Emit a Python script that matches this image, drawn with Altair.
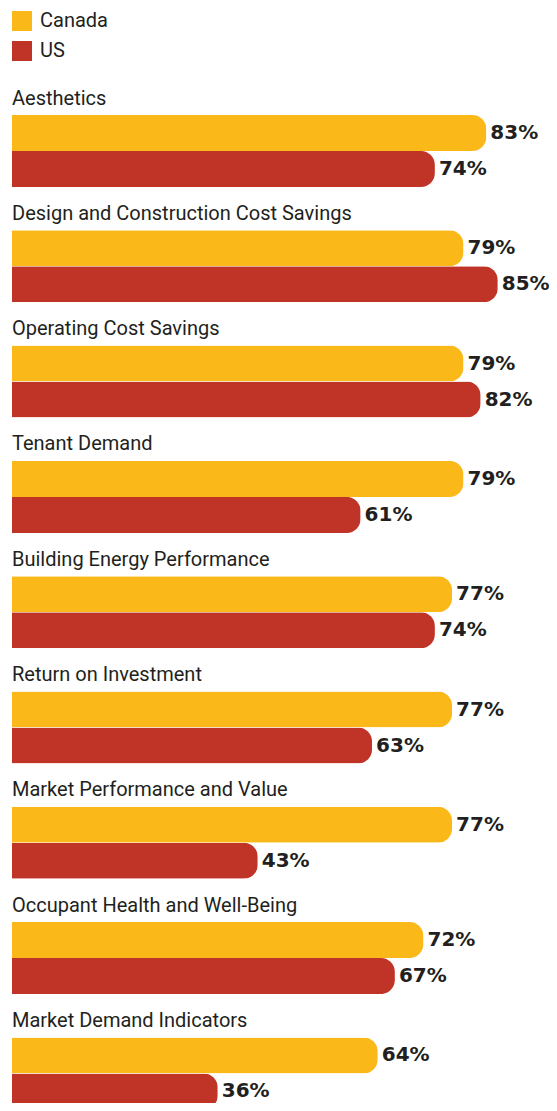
import altair as alt
import pandas as pd

categories = [
    "Aesthetics",
    "Design and Construction Cost Savings",
    "Operating Cost Savings",
    "Tenant Demand",
    "Building Energy Performance",
    "Return on Investment",
    "Market Performance and Value",
    "Occupant Health and Well-Being",
    "Market Demand Indicators",
]
canada = [83, 79, 79, 79, 77, 77, 77, 72, 64]
us = [74, 85, 82, 61, 74, 63, 43, 67, 36]
series = ["Canada", "US"]
colors = ["#FBB919", "#BF3427"]

rows = []
for c, a, b in zip(categories, canada, us):
    rows.append({"category": c, "series": "Canada", "value": a, "label": f"{a}%"})
    rows.append({"category": c, "series": "US", "value": b, "label": f"{b}%"})
df = pd.DataFrame(rows)
cat_df = pd.DataFrame({"category": categories})

PX_PER_PCT = 5.715
W = 537
H = 1095
STEP = 115.3
P_IN = 1 - 72 / STEP
Y0 = 107.0
Y1 = Y0 + STEP * (len(categories) - P_IN)

yscale = alt.Scale(domain=categories, range=[Y0, Y1], paddingInner=P_IN, paddingOuter=0, round=False)
x = alt.X("value:Q", scale=alt.Scale(domain=[0, W / PX_PER_PCT], nice=False, zero=True), axis=None)
y = alt.Y("category:N", scale=yscale, axis=None, sort=categories)
yoff = alt.YOffset("series:N", scale=alt.Scale(domain=series, paddingInner=0, paddingOuter=0, round=False))

bars = alt.Chart(df).mark_bar(cornerRadiusEnd=14).encode(
    x=x,
    y=y,
    yOffset=yoff,
    color=alt.Color(
        "series:N",
        scale=alt.Scale(domain=series, range=colors),
        legend=alt.Legend(
            title=None,
            orient="none",
            legendX=0,
            legendY=3,
            direction="vertical",
            symbolType="square",
            symbolSize=400,
            symbolStrokeWidth=0,
            symbolOpacity=1,
            labelFontSize=20,
            labelFont="Roboto",
            labelColor="#231F20",
            labelOffset=8,
            rowPadding=10,
            padding=0,
        ),
    ),
)

vals = alt.Chart(df).mark_text(
    align="left", baseline="middle", dx=4, font="DejaVu Sans", fontWeight="bold",
    fontSize=20, color="#231F20"
).encode(x=x, y=y, yOffset=yoff, text="label:N")

labels = alt.Chart(cat_df).mark_text(
    align="left", baseline="alphabetic", dy=-10.5, font="Roboto", fontSize=20, color="#231F20"
).encode(
    x=alt.value(0),
    y=alt.Y("category:N", scale=yscale, axis=None, sort=categories, bandPosition=0),
    text="category:N",
)

chart = alt.layer(bars, vals, labels).properties(
    width=W,
    height=H,
    padding={"left": 4, "top": 0, "right": 0, "bottom": 0},
    autosize=alt.AutoSizeParams(type="none"),
).configure_view(stroke=None)

chart.save("out.html", embed_options={"renderer": "svg", "actions": False})
